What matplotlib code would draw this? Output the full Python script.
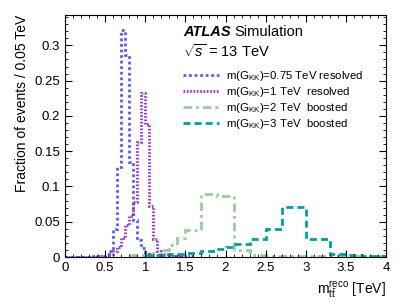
import numpy as np
import matplotlib
matplotlib.use("Agg")
import matplotlib.pyplot as plt
from matplotlib.ticker import MultipleLocator
from matplotlib.lines import Line2D

plt.rcParams['font.family'] = ['Liberation Sans', 'DejaVu Sans']
plt.rcParams['mathtext.fontset'] = 'custom'
plt.rcParams['mathtext.rm'] = 'Liberation Sans'
plt.rcParams['mathtext.it'] = 'Liberation Sans:italic'
plt.rcParams['mathtext.bf'] = 'Liberation Sans:bold'

# ---- data (fraction of events per bin) ----
edges_075 = [0.0, 0.3, 0.4, 0.5, 0.55, 0.6, 0.65, 0.7, 0.75, 0.8, 0.85, 0.9, 0.95, 1.0, 1.05, 1.1, 1.2, 1.5]
vals_075 = [0.0005, 0.001, 0.002, 0.003, 0.008, 0.039, 0.128, 0.322, 0.287, 0.135, 0.052, 0.024, 0.013, 0.007, 0.004, 0.002, 0.001]

edges_1 = [0.0, 0.4, 0.5, 0.55, 0.6, 0.65, 0.7, 0.75, 0.8, 0.85, 0.9, 0.95, 1.0, 1.05, 1.1, 1.15, 1.2, 1.3, 1.6]
vals_1 = [0.0005, 0.001, 0.002, 0.004, 0.009, 0.014, 0.027, 0.045, 0.058, 0.078, 0.163, 0.232, 0.188, 0.072, 0.026, 0.008, 0.004, 0.002]

edges_2 = [0.8, 1.1, 1.2, 1.3, 1.4, 1.5, 1.7, 1.9, 2.1, 2.3, 2.5, 3.0, 4.0]
vals_2 = [0.003, 0.006, 0.010, 0.017, 0.027, 0.038, 0.090, 0.087, 0.010, 0.003, 0.002, 0.001]

edges_3 = [1.0, 1.3, 1.5, 1.7, 1.85, 2.0, 2.1, 2.3, 2.5, 2.7, 3.0, 3.3, 3.5, 3.7, 4.0]
vals_3 = [0.003, 0.004, 0.006, 0.009, 0.011, 0.014, 0.018, 0.026, 0.040, 0.071, 0.025, 0.004, 0.003, 0.002]

labels = [r'm(G$_{\mathrm{KK}}$)=0.75 TeV resolved',
          r'm(G$_{\mathrm{KK}}$)=1 TeV  resolved',
          r'm(G$_{\mathrm{KK}}$)=2 TeV  boosted',
          r'm(G$_{\mathrm{KK}}$)=3 TeV  boosted']

colors = ['#5a5aff', '#9b30c8', '#99cc99', '#00a0a0']
styles = [(0, (1, 1)), (0, (0.6, 0.6)), (0, (3, 1.5, 1, 1.5)), (0, (2.5, 1.5))]

fig = plt.figure(figsize=(4.07, 3.05), dpi=100)
ax = fig.add_axes([65/407, 1-257/305, (386-65)/407, (257-15)/305])

series = [(edges_075, vals_075), (edges_1, vals_1), (edges_2, vals_2), (edges_3, vals_3)]
handles = []
for (e, v), c, ls, lab in zip(series, colors, styles, labels):
    ax.stairs(v, e, color=c, linestyle=ls, linewidth=2, baseline=None)
    handles.append(Line2D([], [], color=c, linestyle=ls, linewidth=2, label=lab))

ax.set_xlim(0, 4)
ax.set_ylim(0, 0.343)
ax.xaxis.set_major_locator(MultipleLocator(0.5))
ax.xaxis.set_minor_locator(MultipleLocator(0.1))
ax.yaxis.set_major_locator(MultipleLocator(0.05))
ax.yaxis.set_minor_locator(MultipleLocator(0.01))
ax.tick_params(which='both', direction='in', top=True, right=True, labelsize=9.5)
ax.tick_params(which='major', length=5)
ax.tick_params(which='minor', length=2.5)
ax.set_xticks([0, 0.5, 1, 1.5, 2, 2.5, 3, 3.5, 4])
ax.set_xticklabels(['0', '0.5', '1', '1.5', '2', '2.5', '3', '3.5', '4'])
ax.set_yticks([0, 0.05, 0.1, 0.15, 0.2, 0.25, 0.3])
ax.set_yticklabels(['0', '0.05', '0.1', '0.15', '0.2', '0.25', '0.3'])
for sp in ax.spines.values():
    sp.set_linewidth(0.8)

ax.set_ylabel('Fraction of events / 0.05 TeV', loc='top', fontsize=10)
ax.set_xlabel(r'm$_{\mathrm{t\bar{t}}}^{\mathrm{reco}}$ [TeV]', loc='right', fontsize=10)

fig.text(183/407, 1-32/305, 'ATLAS', fontsize=10.5, fontweight='bold', fontstyle='italic', va='center')
fig.text(234/407, 1-32/305, 'Simulation', fontsize=10.5, va='center')
fig.text(183/407, 1-51/305, r'$\sqrt{s}$ = 13 TeV', fontsize=10.5, va='center')

leg = ax.legend(handles=handles, loc='upper left', bbox_to_anchor=((183-65)/321, 1-(69-15)/242),
                frameon=False, fontsize=8.2, handlelength=3.2, handletextpad=0.55,
                labelspacing=0.18, borderaxespad=0, borderpad=0)

fig.savefig('out.png', dpi=100)
